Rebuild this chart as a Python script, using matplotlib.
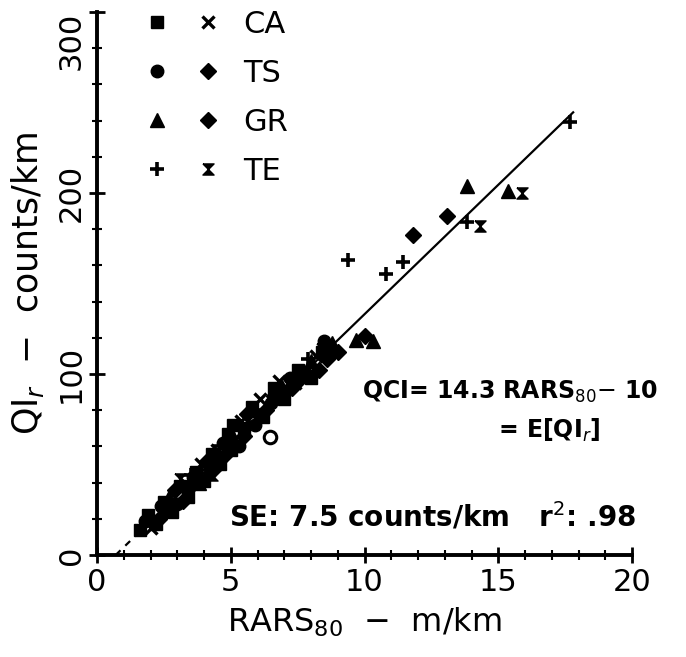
import numpy as np
import matplotlib.pyplot as plt
from matplotlib.legend_handler import HandlerTuple

# fitted line QCI = 14.3 RARS80 - 10
slope = 14.3
intercept = -10.0
fit_solid = [1.6, 17.8]
fit_dashed = [0.7, 1.6]

# CA
ca_sq_x = [1.6, 1.9, 2.2, 2.5, 2.8, 3.1, 3.4, 3.7, 4.0, 4.3, 4.6, 4.9, 5.1, 5.0, 5.5, 5.8, 6.2, 6.6, 7.0, 7.5, 8.0, 8.4]
ca_sq_y = [14, 22, 17, 29, 24, 38, 32, 46, 41, 56, 50, 67, 72, 58, 70, 82, 76, 92, 86, 102, 98, 112]
ca_x_x = [2.0, 2.6, 3.3, 3.9, 4.5, 5.4, 6.1, 6.8, 7.4, 8.2, 8.7]
ca_x_y = [15, 25, 40, 50, 58, 74, 86, 96, 95, 110, 112]

# TS
ts_circ_x = [1.8, 2.4, 3.0, 3.6, 4.2, 4.7, 5.3, 5.9, 6.5, 7.2, 7.8, 8.5]
ts_circ_y = [19, 27, 28, 43, 45, 62, 60, 72, 84, 98, 100, 118]
ts_open_x = [6.45]
ts_open_y = [65]
ts_dia_x = [2.3, 2.9, 3.5, 4.1, 4.8, 5.6, 6.3, 7.6, 8.3, 9.0]
ts_dia_y = [20, 36, 38, 52, 55, 78, 80, 97, 102, 112]

# GR
gr_tri_x = [2.7, 3.8, 5.1, 5.8, 6.9, 8.0, 8.8, 9.7, 10.3, 13.85, 15.35]
gr_tri_y = [32, 40, 65, 80, 93, 107, 117, 119, 118, 204, 201]
gr_dia_x = [3.2, 4.4, 5.5, 6.6, 7.3, 8.6, 10.0, 11.8, 13.1]
gr_dia_y = [30, 48, 66, 88, 92, 108, 121, 177, 187]

# TE
te_plus_x = [2.5, 3.5, 4.6, 5.7, 6.7, 7.9, 9.4, 10.8, 11.45, 13.85, 17.7]
te_plus_y = [22, 44, 60, 71, 90, 108, 163, 155, 162, 184, 239]
te_bow_x = [3.1, 4.3, 6.0, 7.1, 8.4, 14.3, 15.9]
te_bow_y = [42, 44, 78, 95, 114, 182, 200]

bowtie = [(-1, 1), (1, 1), (-1, -1), (1, -1), (-1, 1)]

fig = plt.figure(figsize=(6.86, 6.57), dpi=100)
ax = fig.add_axes([0.1414, 0.1553, 0.7799, 0.8265])

xs = np.array(fit_solid)
ax.plot(xs, slope * xs + intercept, 'k-', lw=1.6, zorder=1)
xd = np.array(fit_dashed)
ax.plot(xd, slope * xd + intercept, 'k--', lw=1.6, dashes=(3, 3), zorder=1)

ms = 9
h_sq, = ax.plot(ca_sq_x, ca_sq_y, 'ks', ms=ms, ls='none')
h_x, = ax.plot(ca_x_x, ca_x_y, 'kx', ms=ms - 1, mew=2.4, ls='none')
h_c, = ax.plot(ts_circ_x, ts_circ_y, 'ko', ms=ms, ls='none')
ax.plot(ts_open_x, ts_open_y, 'o', mfc='white', mec='k', mew=2.2, ms=ms, ls='none')
h_d1, = ax.plot(ts_dia_x, ts_dia_y, 'kD', ms=ms - 1, ls='none')
h_t, = ax.plot(gr_tri_x, gr_tri_y, 'k^', ms=ms + 1, ls='none')
h_d2, = ax.plot(gr_dia_x, gr_dia_y, 'kD', ms=ms - 1, ls='none')
h_p, = ax.plot(te_plus_x, te_plus_y, 'k+', ms=ms + 1, mew=2.6, ls='none')
h_b, = ax.plot(te_bow_x, te_bow_y, 'k', marker=bowtie, ms=ms - 1, ls='none')

ax.legend([(h_sq, h_x), (h_c, h_d1), (h_t, h_d2), (h_p, h_b)],
          ['CA', 'TS', 'GR', 'TE'],
          handler_map={tuple: HandlerTuple(ndivide=None, pad=0.8)},
          loc='upper left', bbox_to_anchor=(0.064, 1.026), frameon=False,
          handlelength=2.55, handletextpad=0.7, labelspacing=0.65,
          fontsize=22, borderaxespad=0)

ax.set_xlim(0, 20)
ax.set_ylim(0, 300)
ax.spines['top'].set_visible(False)
ax.spines['right'].set_visible(False)
ax.spines['left'].set_linewidth(2.8)
ax.spines['bottom'].set_linewidth(2.8)
ax.set_xticks([0, 5, 10, 15, 20])
ax.set_xticks(np.arange(0, 21, 1), minor=True)
ax.set_yticks([0, 100, 200, 300])
ax.set_yticks(np.arange(0, 301, 20), minor=True)
ax.tick_params(which='major', direction='inout', length=12, width=2, labelsize=22)
ax.tick_params(which='minor', direction='inout', length=7, width=1.5)
ax.tick_params(axis='y', labelrotation=90, pad=2)
for lab in ax.get_yticklabels():
    lab.set_va('center')
    if lab.get_text() == '300':
        lab.set_va('top')

ax.set_xlabel('RARS$_{80}$  $-$  m/km', fontsize=23, labelpad=6)
ax.set_ylabel('QI$_r$  $-$  counts/km', fontsize=25, labelpad=8)

ax.text(9.9, 90, 'QCI= 14.3 RARS$_{80}$$-$ 10', fontsize=17, fontweight='bold', va='center')
ax.text(16.9, 69, '= E[QI$_r$]', fontsize=17, fontweight='bold', va='center', ha='center')
ax.text(4.95, 21, 'SE: 7.5 counts/km   r$^2$: .98', fontsize=20, fontweight='bold', va='center')

fig.savefig('out.png', dpi=100)
